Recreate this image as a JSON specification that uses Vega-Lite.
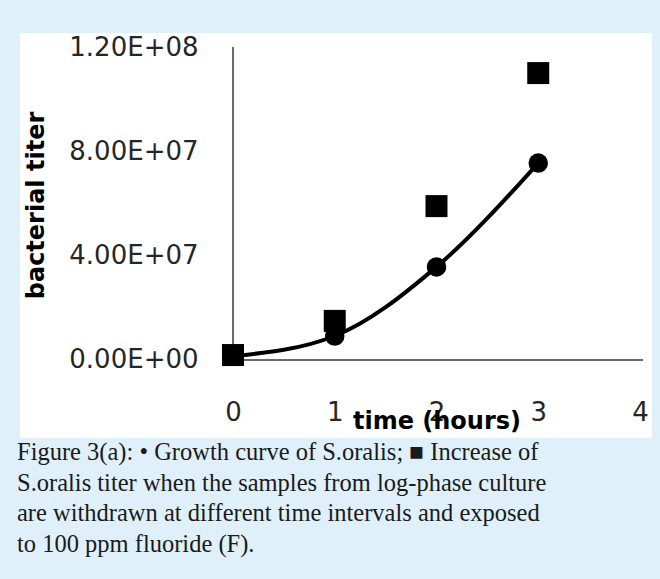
{
  "$schema": "https://vega.github.io/schema/vega-lite/v6.json",
  "autosize": {"type": "none"},
  "width": 632,
  "height": 405,
  "padding": {"left": 20, "top": 33, "right": 8, "bottom": 141},
  "background": "#dff0fa",
  "config": {"view": {"fill": "white", "stroke": null}},
  "title": {
    "text": [
      "Figure 3(a): • Growth curve of S.oralis; ■ Increase of",
      "S.oralis titer when the samples from log-phase culture",
      "are withdrawn at different time intervals and exposed",
      "to 100 ppm fluoride (F)."
    ],
    "orient": "bottom",
    "anchor": "start",
    "frame": "group",
    "font": "Liberation Serif",
    "fontSize": 24.5,
    "fontWeight": "normal",
    "color": "#1a1a1a",
    "lineHeight": 30.5,
    "offset": 3,
    "dx": -3,
    "baseline": "top"
  },
  "data": {
    "values": [
      {"t": 0, "titer": 1500000, "series": "growth"},
      {"t": 1, "titer": 9200000, "series": "growth"},
      {"t": 2, "titer": 35700000, "series": "growth"},
      {"t": 3, "titer": 75500000, "series": "growth"},
      {"t": 0, "titer": 1900000, "series": "fluoride"},
      {"t": 1, "titer": 15000000, "series": "fluoride"},
      {"t": 2, "titer": 59000000, "series": "fluoride"},
      {"t": 3, "titer": 110000000, "series": "fluoride"}
    ]
  },
  "encoding": {
    "x": {
      "field": "t",
      "type": "quantitative",
      "scale": {"domain": [-2.0934, 4.118], "nice": false, "zero": false},
      "axis": {
        "orient": "bottom",
        "values": [0, 1, 2, 3, 4],
        "format": "d",
        "domain": false,
        "ticks": false,
        "tickSize": 0,
        "grid": false,
        "labelPadding": -26,
        "labelBaseline": "middle",
        "labelFont": "DejaVu Sans",
        "labelFontSize": 26,
        "labelColor": "#262626",
        "labelFlush": false,
        "labelOverlap": false,
        "title": "time (hours)",
        "titleFont": "DejaVu Sans",
        "titleFontSize": 24,
        "titleFontWeight": "bold",
        "titleColor": "#000000",
        "titleAlign": "center",
        "titleBaseline": "middle",
        "titleX": 416.5,
        "titleY": -17
      }
    },
    "y": {
      "field": "titer",
      "type": "quantitative",
      "scale": {"domain": [-29905000, 125370000], "nice": false, "zero": false},
      "axis": {
        "orient": "left",
        "values": [0, 40000000, 80000000, 120000000],
        "labelExpr": "datum.value == 0 ? '0.00E+00' : datum.value == 40000000 ? '4.00E+07' : datum.value == 80000000 ? '8.00E+07' : '1.20E+08'",
        "domain": false,
        "ticks": false,
        "tickSize": 0,
        "grid": false,
        "labelPadding": -178,
        "labelAlign": "right",
        "labelBaseline": "middle",
        "labelFont": "DejaVu Sans",
        "labelFontSize": 26,
        "labelColor": "#262626",
        "labelFlush": false,
        "labelOverlap": false,
        "title": "bacterial titer",
        "titleFont": "DejaVu Sans",
        "titleFontSize": 24,
        "titleFontWeight": "bold",
        "titleColor": "#000000",
        "titleAngle": 270,
        "titleAlign": "center",
        "titleBaseline": "middle",
        "titleX": 16,
        "titleY": 172
      }
    }
  },
  "layer": [
    {
      "transform": [{"filter": "datum.series == 'growth' && datum.t == 0"}],
      "mark": {"type": "rule", "color": "#3a3a3a", "strokeWidth": 1.5},
      "encoding": {"x": {"datum": 0, "type": "quantitative"}, "y": {"datum": 0, "type": "quantitative"}, "y2": {"datum": 120000000}}
    },
    {
      "transform": [{"filter": "datum.series == 'growth' && datum.t == 0"}],
      "mark": {"type": "rule", "color": "#3a3a3a", "strokeWidth": 1.5},
      "encoding": {"y": {"datum": 0, "type": "quantitative"}, "x": {"datum": 0, "type": "quantitative"}, "x2": {"datum": 4.03}}
    },
    {
      "transform": [{"filter": "datum.series == 'growth'"}],
      "mark": {"type": "line", "interpolate": "monotone", "strokeWidth": 4, "color": "#000000"}
    },
    {
      "transform": [{"filter": "datum.series == 'fluoride'"}],
      "mark": {"type": "point", "shape": "square", "filled": true, "size": 484, "color": "#000000", "opacity": 1}
    },
    {
      "transform": [{"filter": "datum.series == 'growth'"}],
      "mark": {"type": "circle", "size": 380, "color": "#000000", "opacity": 1}
    }
  ]
}
